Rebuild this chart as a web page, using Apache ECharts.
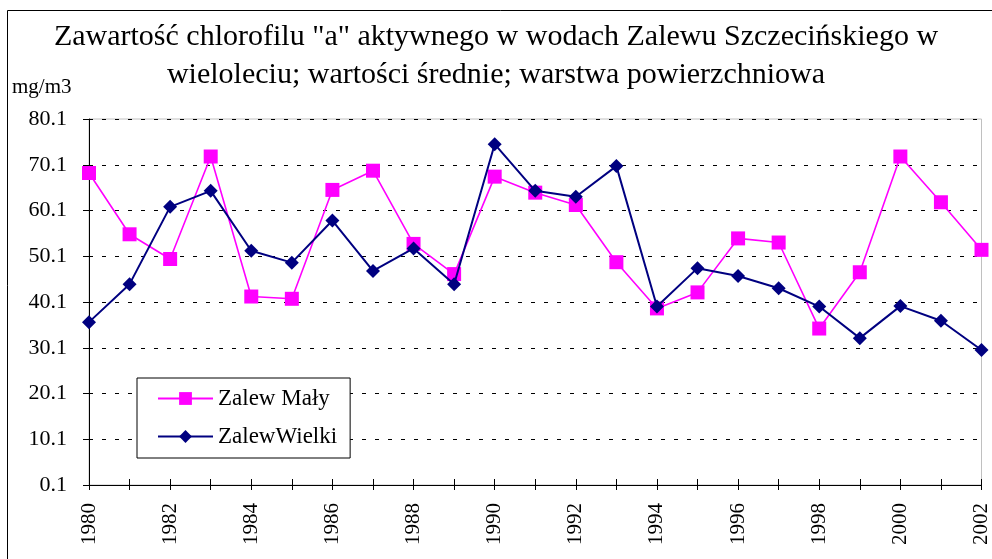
<!DOCTYPE html>
<html lang="pl">
<head>
<meta charset="UTF-8" />
<title>Chlorofil a - Zalew Szczeciński</title>
<style>
    html, body { margin: 0; padding: 0; background: #fff; }
    #chart { width: 992px; height: 559px; }
</style>
</head>
<body>
<div id="chart"></div>
<script src="https://cdn.jsdelivr.net/npm/echarts@6/dist/echarts.min.js"></script>
<script>
var years = ['1980','1981','1982','1983','1984','1985','1986','1987','1988','1989','1990',
             '1991','1992','1993','1994','1995','1996','1997','1998','1999','2000','2001','2002'];
// Zalew Mały
var zalewMaly = [68.3, 54.9, 49.5, 71.9, 41.3, 40.8, 64.6, 68.8, 52.8, 46.2, 67.5,
                 64.0, 61.3, 48.8, 38.7, 42.2, 54.0, 53.1, 34.3, 46.6, 71.9, 61.9, 51.5];
// Zalew Wielki
var zalewWielki = [35.7, 44.0, 60.9, 64.4, 51.3, 48.7, 57.9, 46.9, 51.8, 44.0, 74.6,
                   64.4, 63.1, 69.8, 39.1, 47.5, 45.8, 43.1, 39.1, 32.2, 39.2, 36.0, 29.6];
// os Y zaczyna sie od 0.1 (0.1, 10.1, ... 80.1)
var yBase = 0.1;

var serif = 'Liberation Serif';
var chart = echarts.init(document.getElementById('chart'));

var option = {
    animation: false,
    backgroundColor: '#fff',
    title: {
        text: 'Zawartość chlorofilu "a" aktywnego w wodach Zalewu Szczecińskiego w\nwieloleciu; wartości średnie; warstwa powierzchniowa',
        left: 'center',
        top: 13,
        textStyle: {
            fontFamily: serif,
            fontSize: 30,
            fontWeight: 'normal',
            color: '#000',
            lineHeight: 38
        }
    },
    graphic: [
        {
            type: 'rect',
            shape: { x: 7.5, y: 10.5, width: 1000, height: 600 },
            style: { fill: 'none', stroke: '#000', lineWidth: 1 },
            silent: true
        },
        {
            type: 'text',
            left: 12,
            top: 77,
            style: { text: 'mg/m3', font: '21px "Liberation Serif"', fill: '#000' }
        }
    ],
    legend: {
        orient: 'vertical',
        left: 137,
        top: 378,
        padding: [9, 13, 10, 20],
        itemGap: 15,
        itemWidth: 55,
        itemHeight: 16,
        backgroundColor: '#fff',
        borderColor: '#000',
        borderWidth: 1,
        textStyle: { fontFamily: serif, fontSize: 23, color: '#000' },
        data: ['Zalew Mały', 'ZalewWielki']
    },
    grid: {
        left: 89,
        right: 9,
        top: 119,
        bottom: 74,
        show: true,
        borderColor: '#c0c0c0',
        borderWidth: 1
    },
    xAxis: [
        {
            type: 'category',
            data: years,
            boundaryGap: false,
            axisLine: { lineStyle: { color: '#000', width: 1 } },
            axisTick: { show: true, interval: 0, length: 5, lineStyle: { color: '#000' } },
            axisLabel: {
                interval: 1,
                rotate: 90,
                margin: 18,
                fontFamily: serif,
                fontSize: 21,
                color: '#000'
            },
            splitLine: { show: false }
        },
        {
            // druga os tylko po to, zeby znaczniki przecinaly os
            type: 'category',
            data: years,
            boundaryGap: false,
            position: 'bottom',
            axisLine: { show: false },
            axisTick: { show: true, inside: true, interval: 0, length: 6, lineStyle: { color: '#000' } },
            axisLabel: { show: false },
            splitLine: { show: false }
        }
    ],
    yAxis: {
        type: 'value',
        min: 0,
        max: 80,
        interval: 10,
        axisLine: { show: true, lineStyle: { color: '#000', width: 1 } },
        axisTick: { show: true, length: 6, lineStyle: { color: '#000' } },
        axisLabel: {
            margin: 22,
            fontFamily: serif,
            fontSize: 22,
            color: '#000',
            formatter: function (v) { return (v + yBase).toFixed(1); }
        },
        splitLine: {
            show: true,
            lineStyle: { color: '#000', width: 1, type: [4, 9] }
        }
    },
    series: [
        {
            name: 'Zalew Mały',
            type: 'line',
            data: zalewMaly.map(function (v) { return +(v - yBase).toFixed(2); }),
            symbol: 'rect',
            symbolSize: 14,
            lineStyle: { color: '#ff00ff', width: 1.6 },
            itemStyle: { color: '#ff00ff' },
            z: 2
        },
        {
            name: 'ZalewWielki',
            type: 'line',
            data: zalewWielki.map(function (v) { return +(v - yBase).toFixed(2); }),
            symbol: 'diamond',
            symbolSize: 14,
            lineStyle: { color: '#000080', width: 2 },
            itemStyle: { color: '#000080' },
            z: 3
        }
    ]
};

chart.setOption(option);
</script>
</body>
</html>
